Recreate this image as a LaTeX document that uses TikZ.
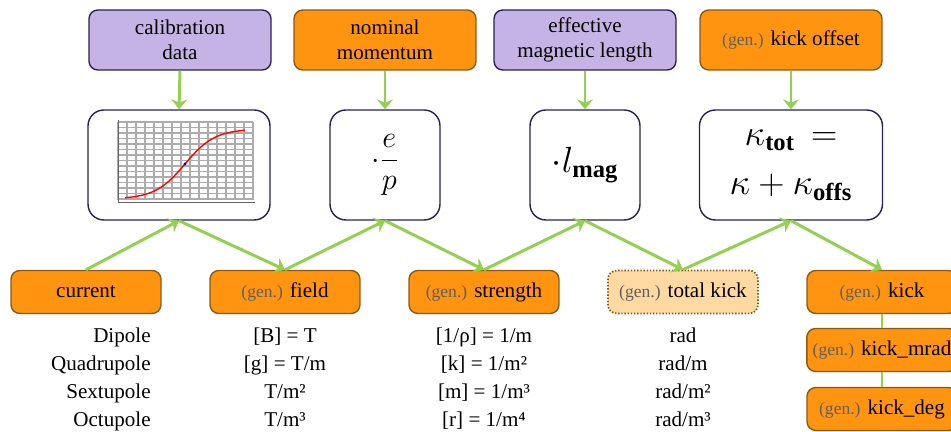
\documentclass[tikz,border=0pt]{standalone}
\usepackage{fontspec}
\setmainfont{Liberation Serif}
\usepackage{amsmath}
\usepackage{tikz}
\usetikzlibrary{arrows.meta,positioning,calc}
\definecolor{mainorange}{HTML}{FF9410}
\definecolor{lightorange}{HTML}{FFD9A2}
\definecolor{lilac}{HTML}{C4B3E4}
\definecolor{navyline}{HTML}{2A1F5C}
\definecolor{brownline}{HTML}{8A5A14}
\definecolor{leafgreen}{HTML}{92D050}
\definecolor{gentext}{HTML}{5F5F5F}
\newcommand{\gen}{{\fontsize{10}{12}\selectfont\color{gentext}(gen.)}}
\tikzset{
  inputbox/.style={rectangle,rounded corners=5pt,draw=navyline,line width=0.8pt,fill=lilac,minimum width=3.64cm,minimum height=1.2cm,align=center,font=\fontsize{12}{14}\selectfont},
  paramin/.style={inputbox,draw=brownline,fill=mainorange},
  opbox/.style={rectangle,rounded corners=9pt,draw=navyline,line width=0.8pt,fill=white,minimum width=2.2cm,minimum height=2.2cm,align=center,font=\fontsize{20}{24}\selectfont},
  quantity/.style={rectangle,rounded corners=5pt,draw=brownline,line width=0.8pt,fill=mainorange,minimum width=3cm,minimum height=0.86cm,align=center,font=\fontsize{12}{14}\selectfont},
  derived/.style={quantity,fill=lightorange,densely dotted,line width=1pt},
  unittext/.style={anchor=base,inner sep=0pt,font=\fontsize{12}{14}\selectfont},
  flow/.style={-{Stealth[length=2mm,width=3.2mm,inset=0.7mm]},line width=1.7pt,draw=leafgreen},
  link/.style={line width=1.7pt,draw=leafgreen}
}

\begin{document}
\begin{tikzpicture}[x=0.02cm,y=-0.02cm]
  \useasboundingbox (0,0) rectangle (951,432);

  % inputs
  \node[inputbox] (calib) at (180,40) {calibration\\data};
  \node[paramin] (momentum) at (385,40) {nominal\\momentum};
  \node[inputbox] (maglen) at (585,40) {effective\\magnetic length};
  \node[paramin] (offset) at (791,40) {\gen{} kick offset};

  % operations
  \node[opbox,minimum width=3.64cm] (plotbox) at (179,165) {};
  \node[opbox,font=\fontsize{18}{21}\selectfont] (charge) at (385,165) {$\displaystyle\cdot\frac{e}{p}$};
  \node[opbox] (length) at (585,165) {$\cdot l_{\mathbf{mag}}$};
  \node[opbox,minimum width=3.66cm] (kappa) at (791,165) {$\kappa_{\mathbf{tot}}\, =$\\[4pt]$\kappa+\kappa_{\mathbf{offs}}$};

  % calibration curve
  \foreach \gx in {118,127,...,253} \draw[gray!65,line width=0.7pt] (\gx,122) -- (\gx,200);
  \foreach \gy in {122,127.5,...,200} \draw[gray!65,line width=0.7pt] (118,\gy) -- (253,\gy);
  \draw[gray!80!black,line width=0.5pt] (118,120) -- (118,202) -- (255,202);
  \draw[red,line width=0.8pt] plot[domain=125:245,samples=40,smooth] (\x,{164-35*tanh((\x-185)/30)});
  \fill[blue!70!black] (185,164) circle (1.6);

  % quantities
  \node[quantity] (current) at (86,292) {current};
  \node[quantity] (field) at (285,292) {\gen{} field};
  \node[quantity] (strength) at (484,292) {\gen{} strength};
  \node[derived] (totkick) at (683,292) {\gen{} total kick};
  \node[quantity] (kick) at (882,292) {\gen{} kick};
  \node[quantity] (kickmrad) at (882,350) {\gen{} kick\_mrad};
  \node[quantity] (kickdeg) at (882,409) {\gen{} kick\_deg};

  % units
  \node[unittext,anchor=base east] (dipname) at (151,343) {Dipole};
  \node[unittext,anchor=base east] (quadname) at (151,371) {Quadrupole};
  \node[unittext,anchor=base east] (sextname) at (151,399) {Sextupole};
  \node[unittext,anchor=base east] (octname) at (151,427) {Octupole};
  \node[unittext] (dipfield) at (285,343) {[B] = T};
  \node[unittext] (quadfield) at (285,371) {[g] = T/m};
  \node[unittext] (sextfield) at (285,399) {T/m²};
  \node[unittext] (octfield) at (285,427) {T/m³};
  \node[unittext] (dipstrength) at (484,343) {[1/ρ] = 1/m};
  \node[unittext] (quadstrength) at (484,371) {[k] = 1/m²};
  \node[unittext] (sextstrength) at (484,399) {[m] = 1/m³};
  \node[unittext] (octstrength) at (484,427) {[r] = 1/m⁴};
  \node[unittext] (dipkick) at (683,343) {rad};
  \node[unittext] (quadkick) at (683,371) {rad/m};
  \node[unittext] (sextkick) at (683,399) {rad/m²};
  \node[unittext] (octkick) at (683,427) {rad/m³};

  \draw[flow] (calib.south) -- (plotbox.north);
  \draw[flow] (momentum.south) -- (charge.north);
  \draw[flow] (maglen.south) -- (length.north);
  \draw[flow] (offset.south) -- (kappa.north);

  \draw[flow] (current.north) -- (plotbox.south);
  \draw[flow] (plotbox.south) -- (field.north);
  \draw[flow] (field.north) -- (charge.south);
  \draw[flow] (charge.south) -- (strength.north);
  \draw[flow] (strength.north) -- (length.south);
  \draw[flow] (length.south) -- (totkick.north);
  \draw[flow] (totkick.north) -- (kappa.south);
  \draw[flow] (kappa.south) -- (kick.north);
  \draw[link] (kick.south) -- (kickmrad.north);
  \draw[link] (kickmrad.south) -- (kickdeg.north);
\end{tikzpicture}
\end{document}
